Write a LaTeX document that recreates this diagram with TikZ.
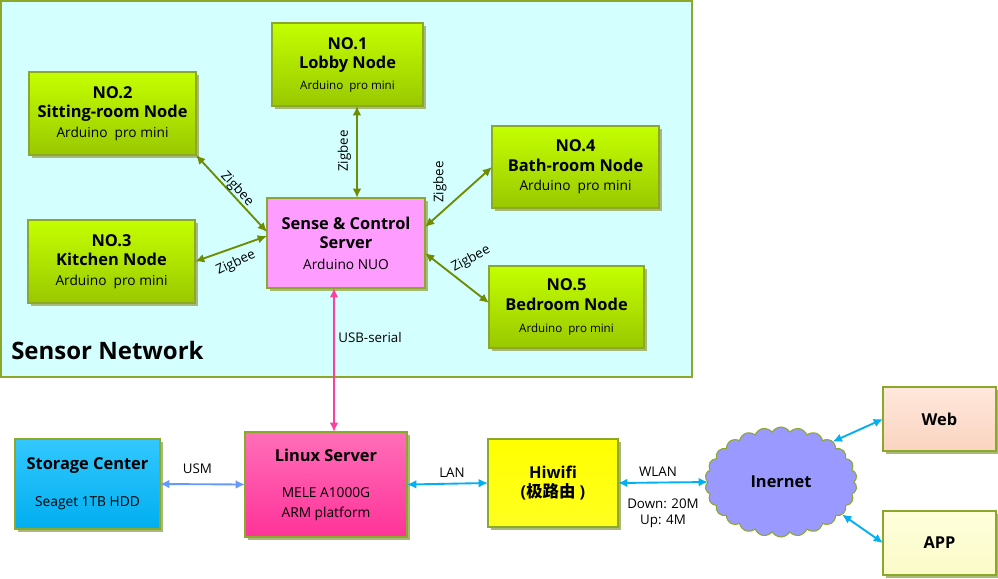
\documentclass[tikz,border=0pt]{standalone}
\usepackage{fontspec}
\setmainfont{Open Sans}
\newfontfamily\cjk{Noto Sans CJK SC}
\usetikzlibrary{shapes.symbols,shadows,arrows.meta}
\definecolor{bgfill}{HTML}{D4FFFF}
\definecolor{olive}{HTML}{8CA82A}
\definecolor{gtop}{HTML}{C4FF00}
\definecolor{gbot}{HTML}{99C800}
\definecolor{zigc}{HTML}{6E8C00}
\definecolor{shadowc}{HTML}{A9B97A}
\definecolor{sensec}{HTML}{FF9CFF}
\definecolor{ltop}{HTML}{FF6EB8}
\definecolor{lbot}{HTML}{FF3399}
\definecolor{usbc}{HTML}{FF3FA0}
\definecolor{stop}{HTML}{33C8FF}
\definecolor{sbot}{HTML}{00AEEF}
\definecolor{usmc}{HTML}{6699FF}
\definecolor{netc}{HTML}{00B0F0}
\definecolor{hitop}{HTML}{FFFF00}
\definecolor{hibot}{HTML}{FFFF20}
\definecolor{webtop}{HTML}{FFE8DC}
\definecolor{webbot}{HTML}{FAD4C0}
\definecolor{apptop}{HTML}{FFFFDC}
\definecolor{appbot}{HTML}{FAFAC8}
\definecolor{cloudc}{HTML}{9999FF}
\tikzset{
  box/.style={draw=olive, line width=0.9pt, inner sep=0pt, outer sep=0pt, align=center,
    font=\bfseries\fontsize{12.3}{14.5}\selectfont,
    drop shadow={shadow xshift=2.2pt, shadow yshift=-2.2pt, fill=shadowc, opacity=1}},
  gbox/.style={box, top color=gtop, bottom color=gbot},
  lbl/.style={font=\fontsize{10}{12}\selectfont, inner sep=0pt},
  zig/.style={draw=zigc, line width=1.4pt, {Latex[length=7pt,width=6.5pt]}-{Latex[length=7pt,width=6.5pt]}},
  usb/.style={zig, draw=usbc},
  usm/.style={zig, draw=usmc},
  net/.style={zig, draw=netc},
}
\newcommand{\sm}{\mdseries\fontsize{10.3}{12.5}\selectfont}
\newcommand{\smm}{\mdseries\fontsize{8.7}{11}\selectfont}
\begin{document}
\begin{tikzpicture}[x=0.75pt,y=-0.75pt]
\useasboundingbox (0,0) rectangle (998,578);
\draw[draw=olive, line width=1.2pt, fill=bgfill] (1,1) rectangle (692,377);
\node[font=\bfseries\fontsize{18}{20}\selectfont, anchor=west, inner sep=0pt] (sn) at (11,350) {Sensor Network};

\node[gbox, minimum width=113.25pt, minimum height=62.25pt] (n1) at (347.5,64.5)
  {NO.1\\Lobby Node\\[1pt]\smm Arduino\ \ pro mini};
\node[gbox, minimum width=125.25pt, minimum height=62.25pt] (n2) at (112.5,113.5)
  {NO.2\\Sitting-room Node\\\sm Arduino\ \ pro mini};
\node[gbox, minimum width=125.25pt, minimum height=62.25pt] (n3) at (111.5,261.5)
  {NO.3\\Kitchen Node\\\sm Arduino\ \ pro mini};
\node[gbox, minimum width=125.25pt, minimum height=61.5pt] (n4) at (575.5,167)
  {NO.4\\Bath-room Node\\\sm Arduino\ \ pro mini};
\node[gbox, minimum width=116.25pt, minimum height=61.5pt] (n5) at (566.5,307)
  {NO.5\\Bedroom Node\\[2pt]\smm Arduino\ \ pro mini};
\node[box, fill=sensec, minimum width=118.5pt, minimum height=67.5pt] (sense) at (346,243)
  {Sense \& Control\\Server\\[1pt]\sm Arduino NUO};

\node[box, top color=stop, bottom color=sbot, minimum width=108.75pt, minimum height=67.5pt] (stor) at (87.5,484)
  {Storage Center\\[13pt]\sm Seaget 1TB HDD};
\node[box, top color=ltop, bottom color=lbot, minimum width=121.5pt, minimum height=78.75pt] (linux) at (326,484.5)
  {Linux Server\\[13pt]\sm MELE A1000G\\\sm ARM platform};
\node[box, top color=hitop, bottom color=hibot, minimum width=97.5pt, minimum height=66pt] (hiwifi) at (553,483)
  {Hiwifi\\({\cjk\bfseries 极路由} )};
\node[cloud, cloud puffs=26, cloud puff arc=120, aspect=1.4, draw=olive, line width=0.8pt, fill=cloudc,
  minimum width=114pt, minimum height=82.5pt, inner sep=0pt, outer sep=0pt,
  font=\bfseries\fontsize{12.3}{14.5}\selectfont] (cloud) at (781,482) {Inernet};
\node[box, top color=webtop, bottom color=webbot, minimum width=84.75pt, minimum height=48pt] (web) at (939.5,419) {Web};
\node[box, top color=apptop, bottom color=appbot, minimum width=84.75pt, minimum height=48pt] (app) at (939.5,543) {APP};

\draw[zig] ([xshift=8.25pt]sense.north) -- ([xshift=7.1pt]n1.south);
\draw[zig] (n2.south east) -- ([yshift=8.25pt]sense.west);
\draw[zig] (n3.east) -- ([yshift=5.25pt]sense.west);
\draw[zig] (n4.west) -- ([yshift=12pt]sense.east);
\draw[zig] ([yshift=3pt]n5.west) -- ([yshift=-7.5pt]sense.east);
\draw[usb] ([xshift=-9pt]sense.south) -- ([xshift=6pt]linux.north);
\draw[usm] (stor.east) -- (linux.west);
\draw[net] (linux.east) -- (hiwifi.west);
\draw[net] (hiwifi.east) -- (cloud.west);
\draw[net] (web.west) -- (cloud.38);
\draw[net] (app.west) -- (cloud.-28);

\node[lbl, rotate=90] (z1) at (344.5,151) {Zigbee};
\node[lbl, rotate=-47] (z2) at (237,189) {Zigbee};
\node[lbl, rotate=25] (z3) at (236,263) {Zigbee};
\node[lbl, rotate=90] (z4) at (440,182) {Zigbee};
\node[lbl, rotate=28] (z5) at (471,259) {Zigbee};
\node[lbl] (lusb) at (370,337) {USB-serial};
\node[lbl] (lusm) at (197.5,469) {USM};
\node[lbl] (llan) at (452,473) {LAN};
\node[lbl] (lwlan) at (658,472) {WLAN};
\node[lbl, align=center] (lspeed) at (663,513) {Down: 20M\\Up: 4M};
\end{tikzpicture}
\end{document}
